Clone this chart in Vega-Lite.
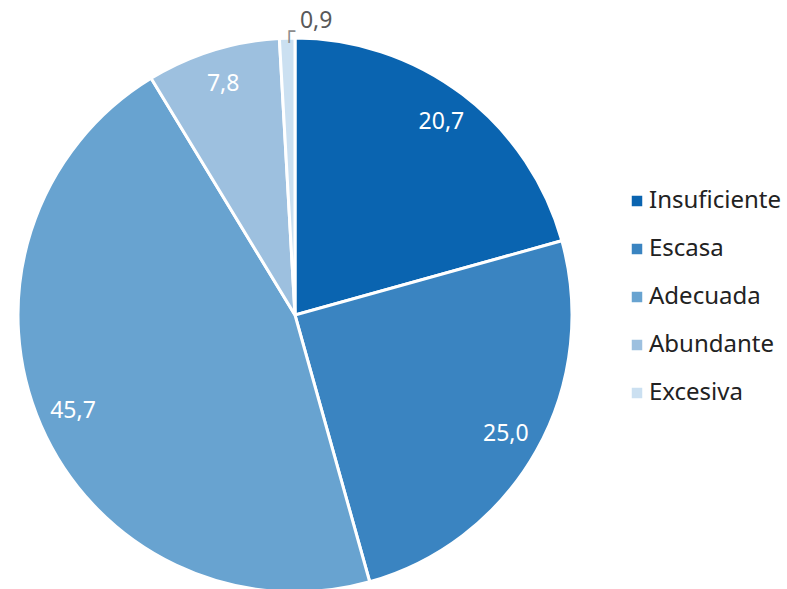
{
  "$schema": "https://vega.github.io/schema/vega-lite/v6.json",
  "autosize": "pad",
  "padding": 0,
  "width": 590,
  "height": 630,
  "background": "white",
  "config": {"view": {"stroke": null}, "font": "Noto Sans"},
  "data": {
    "values": [
      {"category": "Insuficiente", "idx": 1, "value": 20.7, "label": "20,7"},
      {"category": "Escasa", "idx": 2, "value": 25.0, "label": "25,0"},
      {"category": "Adecuada", "idx": 3, "value": 45.7, "label": "45,7"},
      {"category": "Abundante", "idx": 4, "value": 7.8, "label": "7,8"},
      {"category": "Excesiva", "idx": 5, "value": 0.9, "label": "0,9"}
    ]
  },
  "encoding": {
    "theta": {"field": "value", "type": "quantitative", "stack": true},
    "order": {"field": "idx", "type": "quantitative"}
  },
  "layer": [
    {
      "mark": {"type": "arc", "outerRadius": 277, "stroke": "white", "strokeWidth": 3},
      "encoding": {
        "color": {
          "field": "category",
          "type": "nominal",
          "sort": ["Insuficiente", "Escasa", "Adecuada", "Abundante", "Excesiva"],
          "scale": {
            "domain": ["Insuficiente", "Escasa", "Adecuada", "Abundante", "Excesiva"],
            "range": ["#0a64b0", "#3a84c1", "#68a3d0", "#9dc0df", "#cbe0f1"]
          },
          "legend": {
            "title": null,
            "orient": "none",
            "legendX": 625,
            "legendY": 189,
            "padding": 0,
            "symbolType": "square",
            "symbolSize": 110,
            "symbolStrokeWidth": 0,
            "labelFontSize": 24,
            "labelFont": "Noto Sans",
            "labelFontWeight": 400,
            "labelColor": "#222222",
            "labelOffset": 0,
            "rowPadding": 24
          }
        }
      }
    },
    {
      "mark": {"type": "text", "radius": 242, "fontSize": 23, "color": "white", "font": "Noto Sans"},
      "encoding": {
        "text": {"condition": {"test": "datum.category === 'Excesiva'", "value": ""}, "field": "label"}
      }
    },
    {
      "mark": {"type": "text", "radius": 287, "fontSize": 23, "color": "#595959", "font": "Noto Sans", "align": "left", "dx": 13, "dy": -7},
      "encoding": {
        "text": {"condition": {"test": "datum.category !== 'Excesiva'", "value": ""}, "field": "label"}
      }
    },
    {
      "mark": {"type": "text", "radius": 287, "fontSize": 20, "color": "#8c8c8c", "font": "DejaVu Sans Mono", "align": "left", "dx": -4, "dy": 4},
      "encoding": {
        "text": {"condition": {"test": "datum.category !== 'Excesiva'", "value": ""}, "value": "┌"}
      }
    }
  ]
}
